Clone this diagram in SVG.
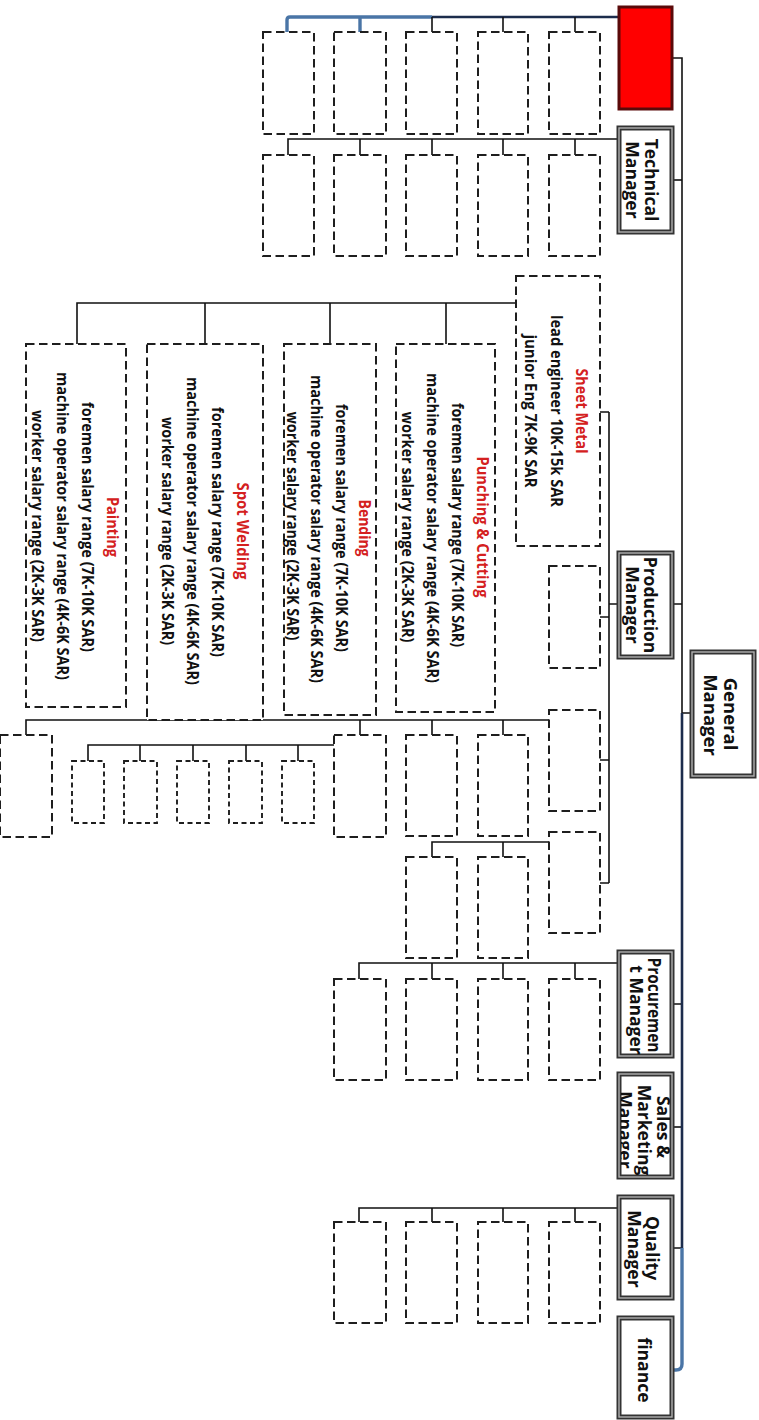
<svg xmlns="http://www.w3.org/2000/svg" width="759" height="1420" viewBox="0 0 759 1420">
<style>
.bg{fill:#ffffff}
.dash{fill:#ffffff;stroke:#1e1e1e;stroke-width:2;stroke-dasharray:8.5 4.5}
.dashs{fill:#ffffff;stroke:#1e1e1e;stroke-width:1.9;stroke-dasharray:5 3.5}
.mgr{fill:#ffffff;stroke:#333333;stroke-width:5}
.mgrin{fill:none;stroke:#b0b0b0;stroke-width:1.4}
.red{fill:#ff0000;stroke:#5a0a0a;stroke-width:3}
.ln{fill:none;stroke:#111111;stroke-width:1.6}
.navy{fill:none;stroke:#1c2c4c;stroke-width:2.6}
.blue{fill:none;stroke:#4a75a6;stroke-width:3.4}
.t{font-family:"Open Sans","Noto Sans","Liberation Sans",sans-serif;font-weight:700;font-size:15.5px;fill:#111111;text-anchor:middle;dominant-baseline:central}
.tt{fill:#d42020}
.m{font-size:17.5px}
</style>
<defs>
<clipPath id="salesclip"><rect x="621" y="1076" width="49" height="99"/></clipPath>
</defs>
<rect class="bg" x="0" y="0" width="759" height="1420"/>

<g id="connectors">
  <path class="navy" d="M619,17 H432"/>
  <path class="blue" d="M432,17 H290 Q287,17 287,20 V32 M360,17 V32"/>
  <path class="ln" d="M432,17 V32 M503,17 V32 M575,17 V32"/>
  <path class="ln" d="M672,58 H682 V713 H692"/>
  <path class="ln" d="M672,180 H682"/>
  <path class="ln" d="M619,139 H288 V155 M360,139 V155 M432,139 V155 M503,139 V155 M575,139 V155"/>
  <path class="ln" d="M673,604 H682 M619,604 H609 M609,412 V883 M600,412 H609 M600,617 H609 M600,760 H609 M600,883 H609"/>
  <path class="ln" d="M516,303 H77 V344 M205,303 V344 M330,303 V344 M446,303 V344"/>
  <path class="ln" d="M549,720 H26 V735 M360,720 V735 M432,720 V735 M503,720 V735"/>
  <path class="ln" d="M334,745 H88 V761 M140,745 V761 M193,745 V761 M246,745 V761 M298,745 V761"/>
  <path class="ln" d="M549,842 H432 V857 M503,842 V857"/>
  <path class="ln" d="M672,1004 H682 M619,963 H359 V979 M432,963 V979 M503,963 V979 M575,963 V979"/>
  <path class="ln" d="M672,1127 H682"/>
  <path class="ln" d="M672,1248 H682 M619,1208 H359 V1222 M432,1208 V1222 M503,1208 V1222 M575,1208 V1222"/>
  <path class="navy" d="M682,713 V1248"/>
  <path class="blue" d="M682,1248 V1364 Q682,1370 676,1370 H672"/>
</g>

<g id="top-row">
  <rect class="dash" x="263" y="32" width="51" height="102"/>
  <rect class="dash" x="334" y="32" width="52" height="102"/>
  <rect class="dash" x="406" y="32" width="51" height="102"/>
  <rect class="dash" x="478" y="32" width="50" height="102"/>
  <rect class="dash" x="549" y="32" width="51" height="102"/>
</g>
<g id="tech-row">
  <rect class="dash" x="263" y="155" width="51" height="101"/>
  <rect class="dash" x="334" y="155" width="52" height="101"/>
  <rect class="dash" x="406" y="155" width="51" height="101"/>
  <rect class="dash" x="478" y="155" width="50" height="101"/>
  <rect class="dash" x="549" y="155" width="51" height="101"/>
</g>

<g id="red-box">
  <rect class="red" x="619" y="7" width="53" height="102"/>
</g>

<g id="technical-manager">
  <rect class="mgr" x="619" y="128" width="53" height="104"/>
  <rect class="mgrin" x="619" y="128" width="53" height="104"/>
  <text class="t m" transform="translate(652,180) rotate(90)">Technical</text>
  <text class="t m" transform="translate(633,180) rotate(90)">Manager</text>
</g>

<g id="sheet-metal">
  <rect class="dash" x="516" y="276" width="84" height="270"/>
  <text class="t tt" transform="translate(582,411) rotate(90)" textLength="85" lengthAdjust="spacingAndGlyphs">Sheet Metal</text>
  <text class="t" transform="translate(557,411) rotate(90)" textLength="192" lengthAdjust="spacingAndGlyphs">lead engineer 10K-15k SAR</text>
  <text class="t" transform="translate(531,411) rotate(90)" textLength="153" lengthAdjust="spacingAndGlyphs">junior Eng 7K-9K SAR</text>
</g>

<g id="punching-cutting">
  <rect class="dash" x="396" y="344" width="99" height="368"/>
  <text class="t tt" transform="translate(483,527) rotate(90)" textLength="141" lengthAdjust="spacingAndGlyphs">Punching &amp; Cutting</text>
  <text class="t" transform="translate(458,525) rotate(90)" textLength="244" lengthAdjust="spacingAndGlyphs">foremen salary range (7K-10K SAR)</text>
  <text class="t" transform="translate(433,528) rotate(90)" textLength="310" lengthAdjust="spacingAndGlyphs">machine operator salary range (4K-6K SAR)</text>
  <text class="t" transform="translate(408,527) rotate(90)" textLength="231" lengthAdjust="spacingAndGlyphs">worker salary range (2K-3K SAR)</text>
</g>

<g id="bending">
  <rect class="dash" x="284" y="344" width="92" height="371"/>
  <text class="t tt" transform="translate(365,528) rotate(90)" textLength="57" lengthAdjust="spacingAndGlyphs">Bending</text>
  <text class="t" transform="translate(342,528) rotate(90)" textLength="248" lengthAdjust="spacingAndGlyphs">foremen salary range (7K-10K SAR)</text>
  <text class="t" transform="translate(317,529) rotate(90)" textLength="308" lengthAdjust="spacingAndGlyphs">machine operator salary range (4K-6K SAR)</text>
  <text class="t" transform="translate(293,526) rotate(90)" textLength="229" lengthAdjust="spacingAndGlyphs">worker salary range (2K-3K SAR)</text>
</g>

<g id="spot-welding">
  <rect class="dash" x="147" y="344" width="116" height="376"/>
  <text class="t tt" transform="translate(243,531) rotate(90)" textLength="97" lengthAdjust="spacingAndGlyphs">Spot Welding</text>
  <text class="t" transform="translate(218,532) rotate(90)" textLength="250" lengthAdjust="spacingAndGlyphs">foremen salary range (7K-10K SAR)</text>
  <text class="t" transform="translate(193,531) rotate(90)" textLength="308" lengthAdjust="spacingAndGlyphs">machine operator salary range (4K-6K SAR)</text>
  <text class="t" transform="translate(168,531) rotate(90)" textLength="228" lengthAdjust="spacingAndGlyphs">worker salary range (2K-3K SAR)</text>
</g>

<g id="painting">
  <rect class="dash" x="26" y="344" width="100" height="363"/>
  <text class="t tt" transform="translate(113,527) rotate(90)" textLength="60" lengthAdjust="spacingAndGlyphs">Painting</text>
  <text class="t" transform="translate(88,527) rotate(90)" textLength="250" lengthAdjust="spacingAndGlyphs">foremen salary range (7K-10K SAR)</text>
  <text class="t" transform="translate(63,526) rotate(90)" textLength="308" lengthAdjust="spacingAndGlyphs">machine operator salary range (4K-6K SAR)</text>
  <text class="t" transform="translate(38,526) rotate(90)" textLength="232" lengthAdjust="spacingAndGlyphs">worker salary range (2K-3K SAR)</text>
</g>

<g id="production-manager">
  <rect class="mgr" x="619" y="553" width="53" height="104"/>
  <rect class="mgrin" x="619" y="553" width="53" height="104"/>
  <text class="t m" transform="translate(651,605) rotate(90)">Production</text>
  <text class="t m" transform="translate(633,605) rotate(90)">Manager</text>
</g>

<g id="production-units">
  <rect class="dash" x="549" y="566" width="51" height="102"/>
  <rect class="dash" x="549" y="710" width="51" height="101"/>
  <rect class="dash" x="549" y="832" width="51" height="101"/>
  <rect class="dash" x="0" y="735" width="52" height="102"/>
  <rect class="dash" x="334" y="735" width="52" height="102"/>
  <rect class="dash" x="406" y="735" width="51" height="101"/>
  <rect class="dash" x="478" y="735" width="50" height="101"/>
  <rect class="dash" x="406" y="857" width="51" height="101"/>
  <rect class="dash" x="478" y="857" width="50" height="101"/>
</g>

<g id="small-boxes">
  <rect class="dashs" x="72" y="761" width="32" height="62"/>
  <rect class="dashs" x="124" y="761" width="33" height="62"/>
  <rect class="dashs" x="177" y="761" width="32" height="62"/>
  <rect class="dashs" x="229" y="761" width="33" height="62"/>
  <rect class="dashs" x="282" y="761" width="32" height="62"/>
</g>

<g id="general-manager">
  <rect class="mgr" x="692" y="652" width="62" height="124"/>
  <rect class="mgrin" x="692" y="652" width="62" height="124"/>
  <text class="t m" transform="translate(731,714) rotate(90)" style="font-size:18.5px">General</text>
  <text class="t m" transform="translate(711,715) rotate(90)" style="font-size:18.5px">Manager</text>
</g>

<g id="procurement-manager">
  <rect class="mgr" x="619" y="952" width="53" height="104"/>
  <rect class="mgrin" x="619" y="952" width="53" height="104"/>
  <text class="t m" transform="translate(655,1005) rotate(90)" textLength="95" lengthAdjust="spacingAndGlyphs">Procuremen</text>
  <text class="t m" transform="translate(637,1010) rotate(90)">t Manager</text>
</g>
<g id="procurement-units">
  <rect class="dash" x="334" y="979" width="52" height="101"/>
  <rect class="dash" x="406" y="979" width="51" height="101"/>
  <rect class="dash" x="478" y="979" width="50" height="101"/>
  <rect class="dash" x="549" y="979" width="51" height="101"/>
</g>

<g id="sales-marketing-manager">
  <rect class="mgr" x="619" y="1074" width="53" height="103"/>
  <rect class="mgrin" x="619" y="1074" width="53" height="103"/>
  <g clip-path="url(#salesclip)">
    <text class="t m" transform="translate(664,1127) rotate(90)">Sales &amp;</text>
    <text class="t m" transform="translate(645,1130) rotate(90)">Marketing</text>
    <text class="t m" transform="translate(626,1130) rotate(90)">Manager</text>
  </g>
</g>

<g id="quality-manager">
  <rect class="mgr" x="619" y="1197" width="53" height="101"/>
  <rect class="mgrin" x="619" y="1197" width="53" height="101"/>
  <text class="t m" transform="translate(653,1248) rotate(90)">Quality</text>
  <text class="t m" transform="translate(635,1249) rotate(90)">Manager</text>
</g>
<g id="quality-units">
  <rect class="dash" x="334" y="1222" width="52" height="101"/>
  <rect class="dash" x="406" y="1222" width="51" height="101"/>
  <rect class="dash" x="478" y="1222" width="50" height="101"/>
  <rect class="dash" x="549" y="1222" width="51" height="101"/>
</g>

<g id="finance">
  <rect class="mgr" x="619" y="1318" width="53" height="99"/>
  <rect class="mgrin" x="619" y="1318" width="53" height="99"/>
  <text class="t m" transform="translate(645,1370) rotate(90)">finance</text>
</g>
</svg>
